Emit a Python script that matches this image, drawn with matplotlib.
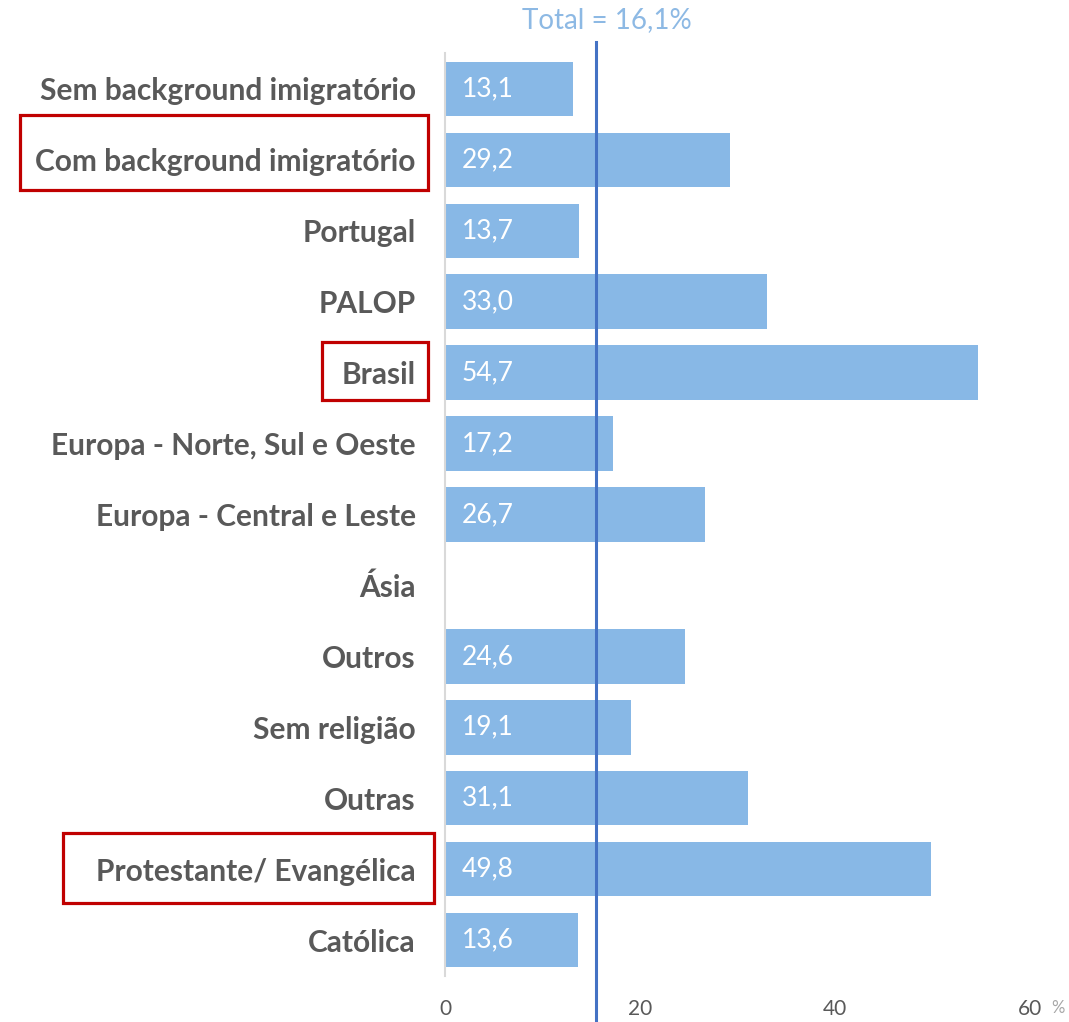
import numpy as np
import matplotlib
matplotlib.use("Agg")
import matplotlib.pyplot as plt
from matplotlib.patches import Rectangle
import matplotlib.transforms as mtransforms

categories = ["Sem background imigratório", "Com background imigratório", "Portugal",
              "PALOP", "Brasil", "Europa - Norte, Sul e Oeste", "Europa - Central e Leste",
              "Ásia", "Outros", "Sem religião", "Outras", "Protestante/ Evangélica", "Católica"]
values = [13.1, 29.2, 13.7, 33.0, 54.7, 17.2, 26.7, np.nan, 24.6, 19.1, 31.1, 49.8, 13.6]
value_labels = ["13,1", "29,2", "13,7", "33,0", "54,7", "17,2", "26,7", "", "24,6", "19,1", "31,1", "49,8", "13,6"]
xticks = [0, 20, 40, 60]
total_label = "Total = 16,1%"
total_line_pos = 15.5

W, H = 1069, 1022
fig = plt.figure(figsize=(W / 100, H / 100), dpi=100)
ax = fig.add_axes([445 / W, (H - 975.5) / H, (1030 - 445) / W, (975.5 - 53.5) / H])

font = "Lato"
bar_color = "#88B8E6"
y = np.arange(len(categories))
ax.barh(y, values, height=0.77, color=bar_color)
ax.set_ylim(len(categories) - 0.5, -0.5)
ax.set_xlim(0, 60)

for yi, v, lab in zip(y, values, value_labels):
    if lab:
        ax.annotate(lab, (0, yi), xytext=(17, 0), textcoords="offset pixels",
                    ha="left", va="center", color="white", fontsize=19, family=font)

ax.set_yticks(y)
ax.set_yticklabels(categories, fontsize=21.5, fontweight="bold", color="#595959", family=font)
ax.tick_params(axis="y", length=0, pad=21)
ax.set_xticks(xticks)
ax.set_xticklabels([str(t) for t in xticks], fontsize=15, color="#595959", family=font)
ax.tick_params(axis="x", length=0, pad=17)

for s in ["top", "right", "bottom"]:
    ax.spines[s].set_visible(False)
ax.spines["left"].set_color("#D9D9D9")
ax.spines["left"].set_linewidth(1.5)

trans = mtransforms.blended_transform_factory(ax.transData, ax.transAxes)
ax.plot([total_line_pos, total_line_pos], [1.0125, -0.06], transform=trans,
        color="#4472C4", lw=2.2, clip_on=False)
ax.text(total_line_pos + 1.1, 1.036, total_label, transform=trans, ha="center", va="center",
        fontsize=20, color="#8DB9E4", family=font)
fig.text(1058 / W, (H - 1008) / H, "%", ha="center", va="center", fontsize=12,
         color="#A6A6A6", family=font)

boxes = [(20, 115, 428, 190), (322, 342, 428, 400), (63, 833, 434, 903)]
for x0, y0, x1, y1 in boxes:
    fig.add_artist(Rectangle((x0 / W, (H - y1) / H), (x1 - x0) / W, (y1 - y0) / H,
                             transform=fig.transFigure, fill=False, edgecolor="#C00000", lw=2.3))

fig.savefig("out.png", dpi=100, facecolor="white")
